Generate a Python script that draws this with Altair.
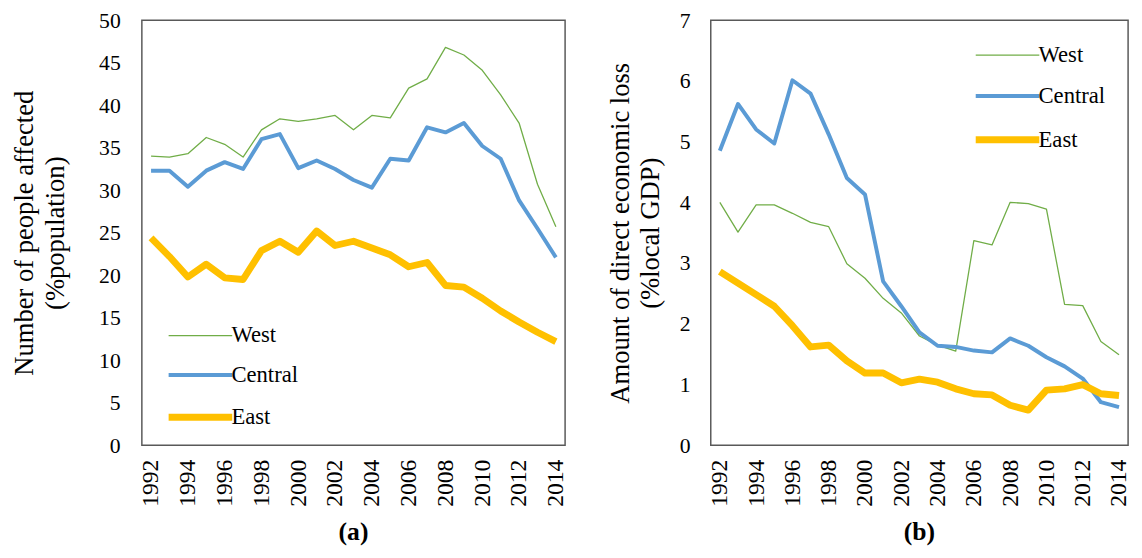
import altair as alt
import pandas as pd

years = list(range(1992, 2015))
regions = ["West", "Central", "East"]

# (a) Number of people affected (%population)
people_west = [34.0, 33.9, 34.3, 36.2, 35.4, 33.9, 37.1, 38.4, 38.1, 38.4, 38.8, 37.1,
               38.8, 38.5, 42.0, 43.1, 46.8, 45.9, 44.1, 41.2, 37.9, 30.7, 25.7]
people_central = [32.3, 32.3, 30.4, 32.3, 33.3, 32.5, 36.0, 36.6, 32.6, 33.5, 32.5, 31.2,
                   30.3, 33.7, 33.5, 37.4, 36.8, 37.9, 35.2, 33.7, 28.8, 25.5, 22.1]
people_east = [24.4, 22.2, 19.8, 21.3, 19.7, 19.5, 22.9, 24.0, 22.7, 25.2, 23.5, 24.0,
               23.2, 22.4, 21.0, 21.5, 18.8, 18.6, 17.3, 15.8, 14.5, 13.3, 12.2]

# (b) Amount of direct economic loss (%local GDP)
loss_west = [4.00, 3.51, 3.96, 3.96, 3.82, 3.67, 3.60, 2.99, 2.75, 2.42, 2.18, 1.80,
             1.65, 1.55, 3.37, 3.30, 4.00, 3.98, 3.89, 2.32, 2.30, 1.71, 1.49]
loss_central = [4.85, 5.62, 5.20, 4.97, 6.01, 5.79, 5.12, 4.40, 4.13, 2.70, 2.29, 1.86,
                1.64, 1.62, 1.56, 1.53, 1.76, 1.64, 1.45, 1.30, 1.10, 0.71, 0.63]
loss_east = [2.86, 2.67, 2.48, 2.29, 1.97, 1.62, 1.65, 1.39, 1.19, 1.19, 1.03, 1.09,
             1.04, 0.93, 0.85, 0.83, 0.66, 0.58, 0.91, 0.93, 1.00, 0.85, 0.82]

colors = ["#70AD47", "#5B9BD5", "#FFC000"]
widths = [1.3, 4, 7]
FONT = "Liberation Serif, Times New Roman, DejaVu Serif, serif"


def long_table(series):
    rows = []
    for name, vals in zip(regions, series):
        for yr, v in zip(years, vals):
            rows.append({"year": yr, "region": name, "value": v})
    return pd.DataFrame(rows)


def panel(df, ymax, ytitle, sub, legx, legy, rowpad, width, lab_pad, title_pad):
    leg = dict(orient="none", legendX=legx, legendY=legy, title=None,
               symbolType="M-5,0H5", symbolSize=167, labelFontSize=23,
               labelFont=FONT, labelColor="black", labelOffset=20,
               rowPadding=rowpad, padding=0)
    return alt.Chart(df, title=alt.Title(sub, orient="bottom", fontSize=26,
                                         fontWeight="bold", font=FONT, color="black",
                                         offset=13, anchor="middle", frame="group")
    ).mark_line(strokeJoin="round", strokeCap="butt").encode(
        x=alt.X("year:O", title=None,
                axis=alt.Axis(values=years[::2], labelAngle=-90, labelFontSize=24,
                              labelFont=FONT, labelColor="black", labelPadding=14,
                              ticks=False, domain=False, grid=False, labelOverlap=False)),
        y=alt.Y("value:Q", scale=alt.Scale(domain=[0, ymax], nice=False),
                axis=alt.Axis(values=list(range(0, ymax + 1, 5 if ymax == 50 else 1)),
                              title=ytitle, titleFontSize=27, titleFont=FONT,
                              titleFontWeight="normal", titleColor="black",
                              titleLineHeight=31, titlePadding=title_pad,
                              labelFontSize=22, labelFont=FONT, labelColor="black",
                              labelPadding=lab_pad, ticks=False, domain=False,
                              grid=False)),
        color=alt.Color("region:N", scale=alt.Scale(domain=regions, range=colors),
                        legend=alt.Legend(**leg)),
        strokeWidth=alt.StrokeWidth("region:N",
                                    scale=alt.Scale(type="ordinal", domain=regions,
                                                    range=widths),
                                    legend=alt.Legend(**leg)),
    ).properties(width=width, height=432)


left = panel(long_table([people_west, people_central, people_east]), 50,
             ["Number of people affected", "(%population)"], "(a)",
             48, 309, 16, 430, 22, 30)
right = panel(long_table([loss_west, loss_central, loss_east]), 7,
              ["Amount of direct economic loss", "(%local GDP)"], "(b)",
              290, 24, 17.5, 424, 21, 15)

chart = alt.hconcat(left, right, spacing=37).resolve_scale(
    color="independent", strokeWidth="independent"
).resolve_legend(
    color="independent", strokeWidth="independent"
).configure(
    font=FONT,
    padding={"left": 2, "top": -4, "right": 2, "bottom": 0}
).configure_axis(
    labelFont=FONT, titleFont=FONT
).configure_title(
    font=FONT
).configure_legend(
    labelFont=FONT
).configure_view(stroke="#595959", strokeWidth=1.5)

chart.save("out.html", embed_options={"renderer": "svg", "actions": False})
